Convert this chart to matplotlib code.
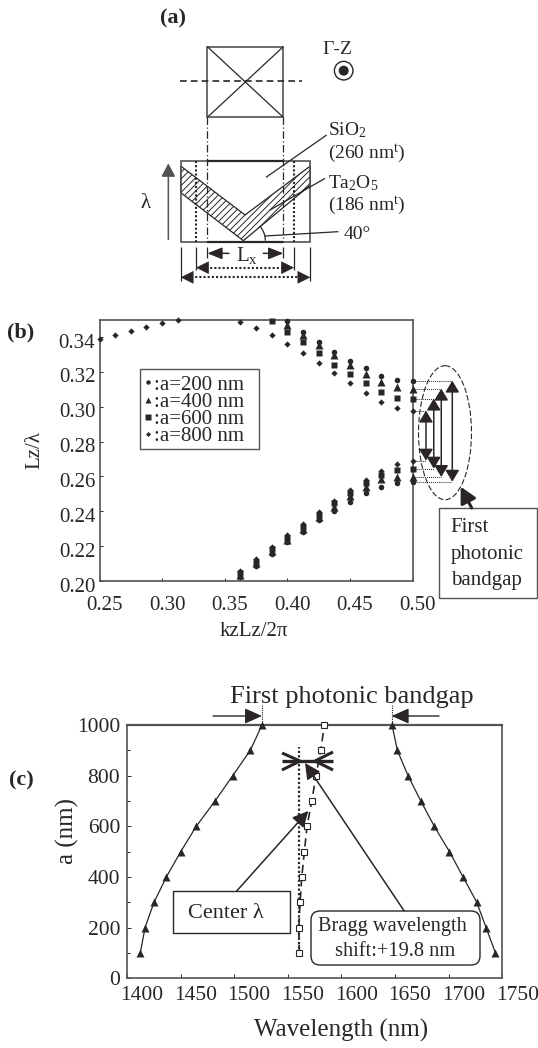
import matplotlib
matplotlib.use("Agg")
import matplotlib.pyplot as plt
from matplotlib.patches import Polygon, Rectangle, Circle, Ellipse, FancyBboxPatch, Arc
from matplotlib.transforms import ScaledTranslation

INK = '#2a2627'
GREY = '#555253'
plt.rcParams.update({
    'font.family': ['Liberation Serif', 'DejaVu Serif'],
    'mathtext.fontset': 'custom',
    'mathtext.rm': 'Liberation Serif',
    'mathtext.it': 'Liberation Serif:italic',
    'mathtext.bf': 'Liberation Serif:bold',
    'text.color': INK, 'axes.labelcolor': INK,
    'xtick.color': INK, 'ytick.color': INK,
    'hatch.linewidth': 0.7, 'hatch.color': INK,
})

# Panel (b): band diagram, normalised frequency against kzLz/2pi
kz_low = [0.3625, 0.375, 0.3875, 0.40, 0.4125, 0.425, 0.4375, 0.45, 0.4625, 0.475, 0.4875, 0.50]
low_200 = [.2025, .2088, .2155, .2222, .2283, .2350, .2404, .2455, .2503, .2541, .2561, .2570]
low_400 = [.2034, .2101, .2170, .2235, .2300, .2370, .2427, .2488, .2541, .2584, .2599, .2597]
low_600 = [.2044, .2111, .2182, .2247, .2312, .2381, .2446, .2507, .2561, .2608, .2637, .2645]
low_800 = [.2057, .2124, .2197, .2262, .2327, .2396, .2461, .2522, .2580, .2633, .2672, .2691]

kz_up_200 = [0.40, 0.4125, 0.425, 0.4375, 0.45, 0.4625, 0.475, 0.4875, 0.50]
up_200 = [.3495, .3431, .3370, .3316, .3265, .3221, .3177, .3152, .3150]
kz_up_400 = [0.40, 0.4125, 0.425, 0.4375, 0.45, 0.4625, 0.475, 0.4875, 0.50]
up_400 = [.3470, .3412, .3355, .3297, .3240, .3188, .3144, .3112, .3104]
kz_up_600 = [0.3875, 0.40, 0.4125, 0.425, 0.4375, 0.45, 0.4625, 0.475, 0.4875, 0.50]
up_600 = [.3495, .3431, .3370, .3307, .3240, .3188, .3135, .3087, .3050, .3047]
kz_up_800 = [0.25, 0.2625, 0.275, 0.2875, 0.30, 0.3125, 0.3625, 0.375, 0.3875, 0.40,
             0.4125, 0.425, 0.4375, 0.45, 0.4625, 0.475, 0.4875, 0.50]
up_800 = [.3391, .3414, .3437, .3460, .3481, .3498, .3485, .3452, .3410, .3362,
          .3309, .3253, .3194, .3135, .3079, .3029, .2991, .2978]

# Panel (c): band edges and Bragg wavelength against a
a_nm = [100, 200, 300, 400, 500, 600, 700, 800, 900, 1000]
edge_low = [1412.4, 1416.8, 1425.2, 1436.7, 1450.1, 1464.6, 1482.1, 1498.6, 1515.0, 1525.9]
edge_high = [1743.6, 1734.9, 1726.2, 1713.4, 1700.7, 1686.6, 1674.0, 1662.1, 1652.1, 1647.2]
bragg = [1560.7, 1560.2, 1561.4, 1563.0, 1565.4, 1567.9, 1572.3, 1576.3, 1580.7, 1584.0]
center_x = [1560.5, 1560.5]
center_a = [100, 915]

xticks_b = [0.25, 0.30, 0.35, 0.40, 0.45, 0.50]
yticks_b = [0.20, 0.22, 0.24, 0.26, 0.28, 0.30, 0.32, 0.34]
xticks_c = [1400, 1450, 1500, 1550, 1600, 1650, 1700, 1750]
yticks_c = [0, 200, 400, 600, 800, 1000]

W, H = 538, 1048
fig = plt.figure(figsize=(W / 100, H / 100), dpi=100)


def pixel_axes(l, t, r, b):
    return fig.add_axes([l / W, 1 - b / H, (r - l) / W, (b - t) / H])


def shift_labels(labels, dx_px, dy_px):
    off = ScaledTranslation(dx_px / 100, dy_px / 100, fig.dpi_scale_trans)
    for lab in labels:
        lab.set_transform(lab.get_transform() + off)


# ---------- panel b ----------
axb = pixel_axes(99.5, 319.7, 412.7, 581)
axb.set_xlim(0.25, 0.50)
axb.set_ylim(0.20, 0.35)
styles = {'c': dict(marker='o', ms=4.0), 't': dict(marker='^', ms=5.4),
          's': dict(marker='s', ms=4.6), 'd': dict(marker='D', ms=3.2)}
series = [(kz_up_200, up_200, low_200, 'c', ':a=200 nm'),
          (kz_up_400, up_400, low_400, 't', ':a=400 nm'),
          (kz_up_600, up_600, low_600, 's', ':a=600 nm'),
          (kz_up_800, up_800, low_800, 'd', ':a=800 nm')]
for kzu, up, low, st, lab in series:
    axb.plot(kz_low, low, ls='none', color=INK, mec='none', clip_on=False, zorder=3, **styles[st])
    axb.plot(kzu, up, ls='none', color=INK, mec='none', clip_on=False, zorder=3,
             label=lab, **styles[st])
axb.set_xticks(xticks_b, [f'{v:.2f}' for v in xticks_b])
axb.set_yticks(yticks_b, [f'{v:.2f}' for v in yticks_b])
axb.tick_params(direction='in', length=2, width=0.7, labelsize=15, pad=3)
shift_labels(axb.get_xticklabels(), 5, -11)
shift_labels(axb.get_yticklabels(), 0, -3.5)
for s in axb.spines.values():
    s.set_color(GREY)
    s.set_linewidth(1.2)
leg = axb.legend(handles=[plt.Line2D([], [], ls='none', color=INK, mec='none',
                                     marker=styles[k]['marker'], ms=styles[k]['ms'] * 0.8)
                          for k in 'ctsd'],
                 labels=[s[4] for s in series],
                 loc='upper left', bbox_to_anchor=((143 - 99.5) / 313.2, (581 - 375) / 261.3),
                 borderaxespad=0, fontsize=15, frameon=False, handlelength=0.45, handletextpad=0.08,
                 labelspacing=-0.11, borderpad=0, numpoints=1)

# guide lines and gap arrows drawn from the band-edge values at kz = 0.50
gap_x = [0.5106, 0.5168, 0.5228, 0.5316]
for gx, top, bot in zip(gap_x, [up_800[-1], up_600[-1], up_400[-1], up_200[-1]],
                        [low_800[-1], low_600[-1], low_400[-1], low_200[-1]]):
    for yv in (top, bot):
        axb.plot([0.50, gx], [yv, yv], ls=(0, (1, 1)), lw=0.7, color=INK, clip_on=False, zorder=2)
    axb.annotate('', xy=(gx, top), xytext=(gx, bot), annotation_clip=False,
                 arrowprops=dict(arrowstyle='<|-|>,head_length=7,head_width=4.2', mutation_scale=1,
                                 color=INK, lw=1.1, shrinkA=0, shrinkB=0))

# ---------- panel c ----------
axc = pixel_axes(127, 725, 502.3, 978.3)
axc.set_xlim(1400, 1750)
axc.set_ylim(0, 1000)
axc.plot(edge_low, a_nm, '-', color=INK, lw=0.9, marker='^', ms=6, mec='none', clip_on=False, zorder=3)
axc.plot(edge_high, a_nm, '-', color=INK, lw=0.9, marker='^', ms=6, mec='none', clip_on=False, zorder=3)
axc.plot(center_x, center_a, ls=(0, (1, 1)), color=INK, lw=1.6, zorder=3)
axc.plot(bragg, a_nm, ls=(0, (5, 3)), color=INK, lw=1.2, marker='s', ms=4, mfc='white',
         mec=INK, mew=0.8, clip_on=False, zorder=3)
axc.set_xticks(xticks_c, [str(v) for v in xticks_c])
axc.set_yticks(yticks_c, [str(v) for v in yticks_c])
axc.set_yticks(a_nm, minor=True)
axc.tick_params(direction='in', length=3, width=0.7, labelsize=15.5, pad=5)
axc.tick_params(which='minor', direction='in', length=2, width=0.7)
shift_labels(axc.get_xticklabels(), 15, -1)
for s in axc.spines.values():
    s.set_color(GREY)
    s.set_linewidth(1.2)
axc.spines['top'].set_linewidth(1.6)

# ---------- overlay in image pixels: schematic and call-outs ----------
ov = fig.add_axes([0, 0, 1, 1], zorder=10)
ov.set_xlim(0, W)
ov.set_ylim(H, 0)
ov.axis('off')
ov.patch.set_alpha(0)


def zx(z):
    return 130 + z / 3


def zy(z):
    return z / 3


def line(x, y, **kw):
    kw.setdefault('color', INK)
    kw.setdefault('lw', 0.9)
    ov.plot(x, y, solid_capstyle='butt', **kw)


def arrow(p0, p1, hl=9, hw=5, lw=1.0, color=INK, style='-|>', ls='-'):
    ov.annotate('', xy=p1, xytext=p0, annotation_clip=False,
                arrowprops=dict(arrowstyle=f'{style},head_length={hl},head_width={hw}',
                                mutation_scale=1, color=color, lw=lw, shrinkA=0, shrinkB=0, ls=ls))


def label(x, y, s, size=14, **kw):
    kw.setdefault('ha', 'left')
    kw.setdefault('va', 'center')
    ov.text(x, y, s, fontsize=size, **kw)


# schematic: plan view
ov.add_patch(Rectangle((zx(232), zy(140)), (460 - 232) / 3, (352 - 140) / 3, fill=False, ec=GREY, lw=1.2))
line([zx(232), zx(460)], [zy(140), zy(352)])
line([zx(232), zx(460)], [zy(352), zy(140)])
line([zx(150), zx(515)], [zy(242), zy(242)], ls=(0, (4, 2.5)), lw=1.2)
# schematic: cross-section
ov.add_patch(Polygon([(zx(152), zy(498)), (zx(345), zy(645)), (zx(541), zy(498)),
                      (zx(541), zy(555)), (zx(340), zy(722)), (zx(152), zy(578))],
                     closed=True, fill=False, ec=INK, lw=0.9, hatch='/////'))
ov.add_patch(Rectangle((zx(152), zy(482)), (541 - 152) / 3, (725 - 482) / 3, fill=False, ec=GREY, lw=1.2))
line([zx(232), zx(460)], [zy(482), zy(482)], lw=1.6)
line([zx(232), zx(460)], [zy(725), zy(725)], lw=1.6)
for z in (232, 460):
    line([zx(z), zx(z)], [zy(352), zy(725)], ls=(0, (6, 2, 1, 2)), lw=0.9)
for z in (198, 492):
    line([zx(z), zx(z)], [zy(482), zy(725)], ls=(0, (1, 1)), lw=1.5)
line([zx(408), zx(590)], [zy(532), zy(405)])
line([zx(420), zx(585)], [zy(630), zy(535)])
line([zx(405), zx(625)], [zy(708), zy(695)])
ov.add_patch(Arc((zx(340), zy(722)), 44, 44, theta1=-42, theta2=0, ec=INK, lw=0.9))
arrow((zx(115), zy(718)), (zx(115), zy(490)), hl=8, hw=4.2, lw=1.1, color=GREY)
ov.add_patch(Circle((zx(641), zy(212)), 9.3, fill=False, ec=INK, lw=1.0))
ov.add_patch(Circle((zx(641), zy(212)), 5, fc=INK, ec='none'))
# dimension lines
for z, t, b in ((152, 740, 842), (198, 740, 810), (232, 740, 775), (460, 740, 775), (492, 740, 810), (541, 740, 842)):
    line([zx(z), zx(z)], [zy(t), zy(b)], lw=0.9)
arrow((zx(297), zy(760)), (zx(232), zy(760)), hl=9, hw=3.6, lw=1.1)
arrow((zx(400), zy(760)), (zx(460), zy(760)), hl=9, hw=3.6, lw=1.1)
for row, left, right in ((803, 198, 492), (832, 152, 541)):
    line([zx(left + 30), zx(right - 30)], [zy(row), zy(row)], lw=1.5, ls=(0, (1, 1)))
    arrow((zx(left + 34), zy(row)), (zx(left), zy(row)), hl=8.4, hw=4.2, lw=0.5)
    arrow((zx(right - 34), zy(row)), (zx(right), zy(row)), hl=8.4, hw=4.2, lw=0.5)

label(173, 18, '(a)', 16, ha='center', fontweight='bold')
label(21, 332, '(b)', 16, ha='center', fontweight='bold')
label(21, 780, '(c)', 16, ha='center', fontweight='bold')
label(337, 49, '\u0393-Z', 14, ha='center')
label(zx(595), zy(390), 'SiO$_{2}$', 14)
label(zx(595), zy(462), '(260 nm$^{\\mathrm{t}}$)', 14)
label(zx(595), zy(550), 'Ta$_{2}$O$_{5}$', 14)
label(zx(595), zy(618), '(186 nm$^{\\mathrm{t}}$)', 14)
label(zx(640), zy(703), '40\u00b0', 14)
label(zx(48), zy(610), '\u03bb', 15, ha='center')
label(zx(350), zy(768), 'L$_{\\mathrm{x}}$', 15, ha='center')

# panel b call-outs
ov.add_patch(Rectangle((140, 369.3), 119.3, 80, fill=False, ec=GREY, lw=1.0))
label(254, 632, 'kzLz/2\u03c0', 15, ha='center')
label(35, 450, 'Lz/\u03bb', 15, ha='center', rotation=90)
ov.add_patch(Ellipse((445, 432.7), 53, 134, fill=False, ec=INK, lw=0.8, ls=(0, (5, 2))))
arrow((471.7, 508), (460.7, 486.7), hl=9.5, hw=5, lw=2.2)
ov.add_patch(Rectangle((439.3, 508), 98, 90, fc='white', ec=GREY, lw=1.0))
label(450.7, 528, 'First', 15)
label(450.7, 555, 'photonic', 15)
label(450.7, 581, 'bandgap', 15)

# panel c call-outs
label(352, 697, 'First photonic bandgap', 19, ha='center')
label(341, 1030, 'Wavelength (nm)', 18, ha='center')
label(67, 831, 'a (nm)', 18, ha='center', rotation=90)
arrow((213, 716), (262, 716), hl=10.5, hw=4.7)
arrow((439, 716), (391.7, 716), hl=10.5, hw=4.7)
for x in (262, 392):
    line([x, x], [705, 725], ls=(0, (1, 1)), lw=0.8)
line([282, 333], [761, 761], lw=2.4)
line([282, 300], [753, 761], lw=2.2)
line([282, 300], [770, 761], lw=2.2)
line([333, 315], [752, 761], lw=2.2)
line([333, 315], [770, 761], lw=2.2)
ov.add_patch(Rectangle((173.3, 891), 116.7, 42.3, fc='white', ec=INK, lw=1.0))
label(226, 913, 'Center \u03bb', 16, ha='center')
arrow((236.7, 891), (308.3, 811), hl=9.6, hw=4.8, lw=1.1)
ov.add_patch(FancyBboxPatch((317, 917), 157, 42, boxstyle='round,pad=6,rounding_size=9',
                            fc='white', ec=INK, lw=1.0))
label(392, 926.7, 'Bragg wavelength', 14.7, ha='center')
label(395, 952, 'shift:+19.8 nm', 14.7, ha='center')
arrow((404, 910.7), (305, 763), hl=9.6, hw=4.8, lw=1.1)

fig.savefig('out.png', dpi=100)
